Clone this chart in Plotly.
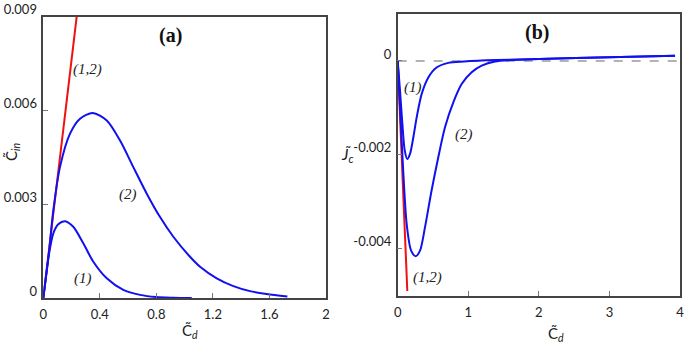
import plotly.graph_objects as go

# ---------- data: panel (a) ----------
a_x1 = [0, 0.02, 0.04, 0.071, 0.106, 0.154, 0.212, 0.283, 0.354, 0.449, 0.566, 0.684, 0.80, 0.92, 1.05]
a_y1 = [0, 0.00072, 0.0014, 0.00207, 0.00236, 0.00246, 0.00228, 0.00175, 0.00116, 0.00063,
        0.00026, 0.0001, 0.00003, 0.00001, 0]
a_x2 = [0, 0.02, 0.04, 0.071, 0.118, 0.189, 0.26, 0.35, 0.449, 0.543, 0.637, 0.732, 0.826,
        0.92, 1.038, 1.109, 1.227, 1.345, 1.462, 1.58, 1.727]
a_y2 = [0, 0.00072, 0.00145, 0.00281, 0.00419, 0.00526, 0.00574, 0.00592, 0.00568, 0.00504,
        0.00419, 0.00334, 0.00259, 0.00196, 0.00132, 0.001, 0.00063, 0.00038, 0.00022,
        0.00013, 0.00005]
a_xr = [0, 0.236]
a_yr = [0, 0.009]
a_xticks = [0, 0.4, 0.8, 1.2, 1.6, 2]
a_xlabels = ["0", "0.4", "0.8", "1.2", "1.6", "2"]
a_yticks = [0, 0.003, 0.006, 0.009]
a_ylabels = ["0", "0.003", "0.006", "0.009"]

# ---------- data: panel (b) ----------
b_x1 = [0, 0.033, 0.066, 0.10, 0.136, 0.174, 0.221, 0.269, 0.34, 0.434, 0.55, 0.717, 0.94,
        1.4, 2.0, 3.0, 3.93]
b_y1 = [0, -0.00064, -0.00134, -0.00191, -0.00209, -0.00198, -0.00163, -0.0012, -0.0007,
        -0.00035, -0.00014, -0.00004, -0.00001, 0.00002, 0.00004, 0.00008, 0.00011]
b_x2 = [0, 0.033, 0.08, 0.127, 0.19, 0.255, 0.316, 0.387, 0.48, 0.575, 0.67, 0.788, 0.906,
        1.048, 1.19, 1.38, 1.6, 2.0, 3.0, 3.93]
b_y2 = [0, -0.00099, -0.0024, -0.00347, -0.00404, -0.00416, -0.00404, -0.00354, -0.00276,
        -0.00205, -0.00141, -0.00088, -0.00049, -0.00024, -0.0001, -0.00001, 0.00002,
        0.00004, 0.00008, 0.00011]
b_xr = [0, 0.136]
b_yr = [0, -0.0049]
b_xticks = [0, 1, 2, 3, 4]
b_xlabels = ["0", "1", "2", "3", "4"]
b_yticks = [0, -0.002, -0.004]
b_ylabels = ["0", "-0.002", "-0.004"]

BLUE = "#1010f0"
RED = "#ee1111"
FRAME = "#444444"
TICKFONT = dict(family="Lato, Open Sans, sans-serif", size=13, color="#222222")
TITLEFONT = dict(family="Lato, Open Sans, sans-serif", size=15, color="#222222")
SERIF_I = dict(family="Liberation Serif, Times New Roman, serif", size=15, color="#222222")

fig = go.Figure()

def line(x, y, color, xa, ya, shape="spline"):
    fig.add_trace(go.Scatter(x=x, y=y, mode="lines", xaxis=xa, yaxis=ya,
                             line=dict(color=color, width=2, shape=shape, smoothing=0.8),
                             hoverinfo="skip", showlegend=False))

line(a_xr, a_yr, RED, "x", "y", "linear")
line(a_x1, a_y1, BLUE, "x", "y")
line(a_x2, a_y2, BLUE, "x", "y")

fig.add_trace(go.Scatter(x=[0, 4], y=[0, 0], mode="lines", xaxis="x2", yaxis="y2",
                         line=dict(color="#666666", width=1, dash="dash"),
                         hoverinfo="skip", showlegend=False))
line(b_xr, b_yr, RED, "x2", "y2", "linear")
line(b_x1, b_y1, BLUE, "x2", "y2")
line(b_x2, b_y2, BLUE, "x2", "y2")

axis_common = dict(showgrid=False, zeroline=False, showline=True, mirror=True,
                   linecolor=FRAME, linewidth=1.5, ticks="inside", ticklen=5,
                   tickcolor="#777777", tickwidth=1, tickfont=TICKFONT, tickmode="array",
                   automargin=False)

fig.update_layout(
    width=685, height=351,
    margin=dict(l=0, r=0, t=0, b=0),
    paper_bgcolor="white", plot_bgcolor="white",
    xaxis=dict(domain=[0.0632, 0.4759], range=[0, 2], tickvals=a_xticks,
               ticktext=a_xlabels, anchor="y", ticklabelstandoff=4, **axis_common),
    yaxis=dict(domain=[0.151, 0.952], range=[0, 0.009], tickvals=a_yticks,
               ticktext=a_ylabels, anchor="x", ticklabelshift=-7, ticklabelstandoff=2,
               **axis_common),
    xaxis2=dict(domain=[0.5806, 0.9927], range=[0, 4], tickvals=b_xticks,
                ticktext=b_xlabels, anchor="y2", ticklabelstandoff=4, **axis_common),
    yaxis2=dict(domain=[0.1575, 0.960], range=[-0.005, 0.001], tickvals=b_yticks,
                ticktext=b_ylabels, anchor="x2", ticklabelshift=-7, ticklabelstandoff=2,
                **axis_common),
)

C = dict(showarrow=False, xanchor="center", yanchor="middle")
ann = []
# panel titles
ann.append(dict(text="<b>(a)</b>", x=0.9, y=0.0084, xref="x", yref="y",
                font=dict(family="Liberation Serif, serif", size=20, color="#111111"), **C))
ann.append(dict(text="<b>(b)</b>", x=1.97, y=0.0006, xref="x2", yref="y2",
                font=dict(family="Liberation Serif, serif", size=20, color="#111111"), **C))
# curve labels (a)
ann.append(dict(text="<i>(1,2)</i>", x=0.31, y=0.0073, xref="x", yref="y", font=SERIF_I, **C))
ann.append(dict(text="<i>(2)</i>", x=0.6, y=0.0033, xref="x", yref="y", font=SERIF_I, **C))
ann.append(dict(text="<i>(1)</i>", x=0.28, y=0.00064, xref="x", yref="y", font=SERIF_I, **C))
# curve labels (b)
ann.append(dict(text="<i>(1)</i>", x=0.21, y=-0.00057, xref="x2", yref="y2", font=SERIF_I, **C))
ann.append(dict(text="<i>(2)</i>", x=0.94, y=-0.00157, xref="x2", yref="y2", font=SERIF_I, **C))
ann.append(dict(text="<i>(1,2)</i>", x=0.42, y=-0.00462, xref="x2", yref="y2", font=SERIF_I, **C))
# axis titles
ann.append(dict(text="C\u0303<sub><i>d</i></sub>", x=190 / 685, y=1 - 331 / 351, xref="paper",
                yref="paper", font=TITLEFONT, **C))
ann.append(dict(text="C\u0303<sub><i>d</i></sub>", x=556 / 685, y=1 - 334 / 351, xref="paper",
                yref="paper", font=TITLEFONT, **C))
ann.append(dict(text="C\u0303<sub><i>in</i></sub>", x=12 / 685, y=1 - 152 / 351, xref="paper",
                yref="paper", textangle=-90, font=TITLEFONT, **C))
ann.append(dict(text="<i>J\u0303</i><sub><i>c</i></sub>", x=348 / 685, y=1 - 154 / 351, xref="paper",
                yref="paper", font=dict(family="Lato, sans-serif", size=16, color="#222222"), **C))
fig.update_layout(annotations=ann)

fig.write_html("out.html", config={"displayModeBar": False},
               post_script="document.body.style.margin='0';document.body.style.overflow='hidden';")
